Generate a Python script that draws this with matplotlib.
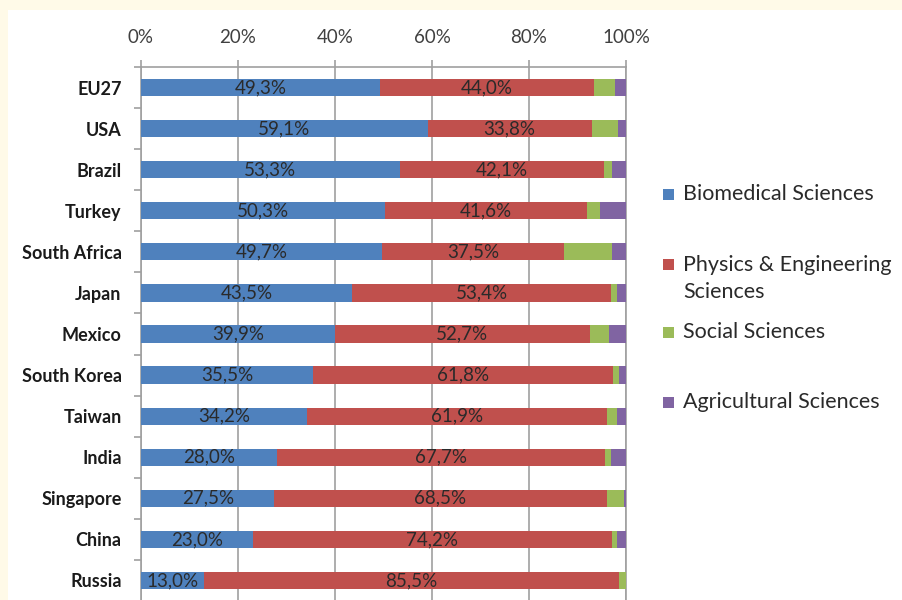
import matplotlib
matplotlib.use("Agg")
import matplotlib.pyplot as plt
from matplotlib.patches import Rectangle
from matplotlib.ticker import FixedLocator, FuncFormatter

# ===== 数据（从图上读出，单位 %） =====
countries = ["EU27", "USA", "Brazil", "Turkey", "South Africa", "Japan", "Mexico",
             "South Korea", "Taiwan", "India", "Singapore", "China", "Russia"]
biomedical = [49.3, 59.1, 53.3, 50.3, 49.7, 43.5, 39.9, 35.5, 34.2, 28.0, 27.5, 23.0, 13.0]
physics = [44.0, 33.8, 42.1, 41.6, 37.5, 53.4, 52.7, 61.8, 61.9, 67.7, 68.5, 74.2, 85.5]
social = [4.5, 5.5, 1.7, 2.7, 9.9, 1.2, 3.8, 1.3, 2.0, 1.3, 3.6, 1.0, 1.5]
agricultural = [2.2, 1.6, 2.9, 5.4, 2.9, 1.9, 3.6, 1.4, 1.9, 3.0, 0.4, 1.8, 0.0]
series_names = ["Biomedical Sciences", "Physics & Engineering\nSciences",
                "Social Sciences", "Agricultural Sciences"]
x_ticks = [0, 20, 40, 60, 80, 100]

colors = ["#4F81BD", "#C0504D", "#9BBB59", "#8064A2"]
FONT = ["Lato", "DejaVu Sans"]
W, H = 903, 600


def fx(x):
    return x / W


def fy(y):
    return 1 - y / H


fig = plt.figure(figsize=(W / 100, H / 100), dpi=100)
fig.patch.set_facecolor("#FFFAE8")
# 白色面板（左上留一圈米色边），放在最底层
fig.patches.append(Rectangle((fx(8), 0), 1 - fx(8), fy(10), transform=fig.transFigure,
                             facecolor="white", edgecolor="none", zorder=-10))

ax = fig.add_axes([fx(141), fy(601), fx(626) - fx(141), fy(67) - fy(601)])
ax.set_facecolor("white")

y = list(range(len(countries)))
left = [0.0] * len(countries)
containers = []
for vals, c in zip([biomedical, physics, social, agricultural], colors):
    bc = ax.barh(y, vals, left=left, height=0.42, color=c, edgecolor="none", zorder=3)
    containers.append((bc, vals))
    left = [l + v for l, v in zip(left, vals)]

# 只给前两类加数据标签，小数点用逗号
for bc, vals in containers[:2]:
    ax.bar_label(bc, labels=[f"{v:.1f}%".replace(".", ",") for v in vals],
                 label_type="center", fontsize=13.5, color="#2A2A2A", family=FONT)

ax.set_xlim(0, 100)
ax.set_ylim(12.5, -0.5)

grid_c = "#A0A0A0"
ax.xaxis.tick_top()
ax.xaxis.set_major_locator(FixedLocator(x_ticks))
ax.xaxis.set_major_formatter(FuncFormatter(lambda v, p: f"{v:.0f}%"))
ax.tick_params(axis="x", which="major", length=5, width=1.2, color=grid_c, pad=10,
               labelsize=13.5, labelcolor="#404040")
for lab in ax.get_xticklabels():
    lab.set_family(FONT)
ax.grid(axis="x", color=grid_c, linewidth=1.2, zorder=1)

ax.set_yticks(y)
ax.set_yticklabels(countries)
ax.yaxis.set_minor_locator(FixedLocator([i - 0.5 for i in range(len(countries) + 1)]))
ax.tick_params(axis="y", which="major", length=0, pad=14, labelsize=13, labelcolor="#1A1A1A")
ax.tick_params(axis="y", which="minor", length=5, width=1.2, color=grid_c)
for lab in ax.get_yticklabels():
    lab.set_family(FONT)
    lab.set_fontweight("bold")

for side in ["top", "left", "right"]:
    ax.spines[side].set_color(grid_c)
    ax.spines[side].set_linewidth(1.2)
ax.spines["bottom"].set_visible(False)

# ===== 图例（手工摆放，模仿 Excel 的间距） =====
legend_y = [194, 264, 332, 402]
for name, c, ly in zip(series_names, colors, legend_y):
    fig.patches.append(Rectangle((fx(663), fy(ly + 5.5)), fx(11), 11 / H,
                                 transform=fig.transFigure, facecolor=c,
                                 edgecolor="none", zorder=5))
    if "\n" in name:
        fig.text(fx(683), fy(ly - 9), name, ha="left", va="top", fontsize=15.5,
                 color="#2A2A2A", family=FONT, linespacing=1.45)
    else:
        fig.text(fx(683), fy(ly), name, ha="left", va="center", fontsize=15.5,
                 color="#2A2A2A", family=FONT)

fig.savefig("out.png", dpi=100, facecolor=fig.get_facecolor())
